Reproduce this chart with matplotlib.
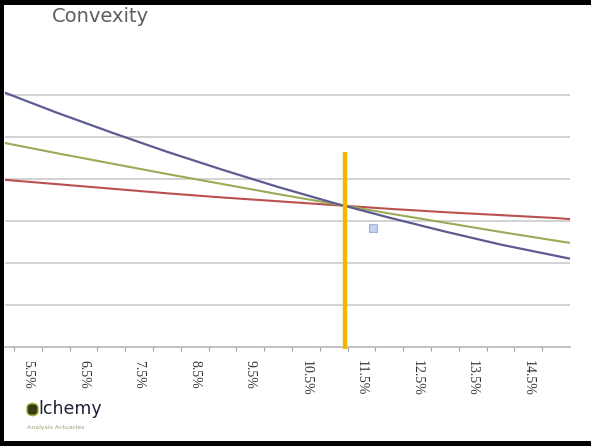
import matplotlib
matplotlib.use("Agg")
import matplotlib.pyplot as plt
from matplotlib.patches import Rectangle, FancyBboxPatch

# Yield levels (%) and the three price curves
yields = [5.0, 6.0, 7.0, 8.0, 9.0, 10.0, 11.0, 12.0, 13.0, 14.0, 15.0, 15.3]
long_bond = [6.10, 5.59, 5.11, 4.65, 4.22, 3.81, 3.43, 3.08, 2.75, 2.44, 2.17, 2.09]
mid_bond = [4.88, 4.62, 4.37, 4.12, 3.88, 3.64, 3.41, 3.18, 2.96, 2.74, 2.53, 2.47]
short_bond = [3.99, 3.88, 3.77, 3.66, 3.56, 3.47, 3.38, 3.29, 3.21, 3.14, 3.07, 3.04]

# Current yield marker and the small highlighted point
current_yield = 11.2
current_top = 4.64
marker_x = [11.7]
marker_y = [2.83]

tick_yields = [5.5, 6.5, 7.5, 8.5, 9.5, 10.5, 11.5, 12.5, 13.5, 14.5]
tick_labels = ["5.5%", "6.5%", "7.5%", "8.5%", "9.5%", "10.5%", "11.5%", "12.5%", "13.5%", "14.5%"]
grid_levels = [1, 2, 3, 4, 5, 6]

W, H = 591, 446
fig = plt.figure(figsize=(W / 100, H / 100), dpi=100)
fig.patch.set_facecolor("white")

ax = fig.add_axes([5 / W, (H - 347) / H, 565 / W, 294 / H])
ax.set_xlim(5.09, 15.25)
ax.set_ylim(0, 7.0)
ax.set_facecolor("white")

for g in grid_levels:
    ax.axhline(g, color="#cfcfcf", lw=1.3, zorder=1)

ax.plot(yields, short_bond, color="#b9514d", lw=1.5, zorder=3)
ax.plot(yields, mid_bond, color="#9aab57", lw=1.5, zorder=3)
ax.plot(yields, long_bond, color="#5c5b92", lw=1.6, zorder=4)

ax.plot([current_yield, current_yield], [-0.05, current_top], color="#f4b400",
        lw=3.2, solid_capstyle="butt", zorder=5, clip_on=False)
ax.plot(marker_x, marker_y, "s", ms=6, color="#c3d4ec", mec="#9db5dc", mew=0.8, zorder=5)

for s in ["top", "right", "left"]:
    ax.spines[s].set_visible(False)
ax.spines["bottom"].set_color("#bdbdbd")
ax.spines["bottom"].set_linewidth(1.3)
ax.set_yticks([])

ax.set_xticks(tick_yields)
ax.set_xticklabels(tick_labels, rotation=-90, fontfamily="Liberation Serif",
                   fontsize=10, color="#333333")
ax.tick_params(axis="x", which="major", length=0, pad=9)
ax.set_xticks([5.25 + 0.5 * k for k in range(20)], minor=True)
ax.tick_params(axis="x", which="minor", length=3, width=0.8, color="#a0a0a0")

fig.text(52 / W, 1 - 16 / H, "Convexity", fontsize=14, color="#5e5e5e",
         ha="left", va="center", fontfamily="DejaVu Sans")

# Company logo
fig.patches.append(FancyBboxPatch((27 / W, 1 - 415.5 / H), 11 / W, 12 / H,
                                  boxstyle="round,pad=0,rounding_size=0.01",
                                  transform=fig.transFigure, facecolor="#3a3a12",
                                  edgecolor="#a3b040", lw=1.0))
fig.text(38.5 / W, 1 - 409 / H, "lchemy", fontsize=12.5, color="#22223a",
         ha="left", va="center", fontfamily="DejaVu Sans")
fig.text(27 / W, 1 - 427 / H, "Analysis Actuaries", fontsize=4.5, color="#9aa070",
         ha="left", va="center")

# Frame lines on the top, left and bottom edges
fig.patches.append(Rectangle((0, 1 - 4.5 / H), 1, 4.5 / H, transform=fig.transFigure,
                             facecolor="black", edgecolor="none"))
fig.patches.append(Rectangle((0, 0), 4 / W, 1, transform=fig.transFigure,
                             facecolor="black", edgecolor="none"))
fig.patches.append(Rectangle((0, 0), 1, 5 / H, transform=fig.transFigure,
                             facecolor="black", edgecolor="none"))

fig.savefig("out.png", dpi=100, facecolor="white")
